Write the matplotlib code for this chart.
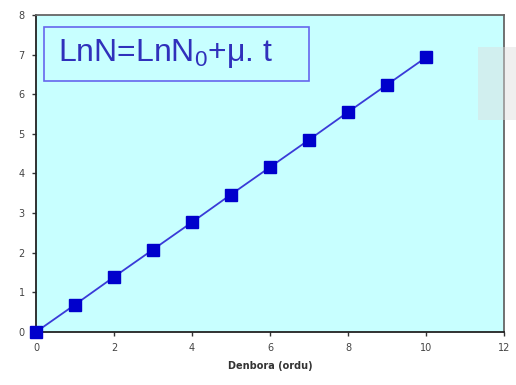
import matplotlib
matplotlib.use("Agg")
import matplotlib.pyplot as plt
from matplotlib.patches import Rectangle

plt.rcParams["mathtext.fontset"] = "custom"
plt.rcParams["mathtext.rm"] = "Liberation Sans"
plt.rcParams["mathtext.it"] = "Liberation Sans:italic"

# Exponential growth: ln N against time
hours = [0, 1, 2, 3, 4, 5, 6, 7, 8, 9, 10]
ln_n = [0.0, 0.69, 1.39, 2.08, 2.77, 3.47, 4.16, 4.85, 5.55, 6.24, 6.93]
x_ticks = [0, 2, 4, 6, 8, 10, 12]
y_ticks = [0, 1, 2, 3, 4, 5, 6, 7, 8]

W, H = 516, 385
fig = plt.figure(figsize=(W / 100, H / 100), dpi=100)
ax = fig.add_axes([36 / W, 1 - 332 / H, (504 - 36) / W, (332 - 15) / H])
ax.set_facecolor("#c8ffff")

ax.plot(hours, ln_n, color="#3a3ad8", lw=1.3, marker="s", ms=8,
        mfc="#0000cc", mec="#0000cc", clip_on=False, zorder=3)

ax.set_xlim(0, 12)
ax.set_ylim(0, 8)
ax.set_xticks(x_ticks)
ax.set_yticks(y_ticks)
ax.tick_params(direction="out", length=3, width=1, colors="#333333",
               labelsize=7, labelcolor="#444444", pad=5)
for side in ("left", "bottom"):
    ax.spines[side].set_color("#222222")
    ax.spines[side].set_linewidth(1.3)
for side in ("top", "right"):
    ax.spines[side].set_color("#666666")
    ax.spines[side].set_linewidth(1.3)

ax.set_xlabel("Denbora (ordu)", fontsize=7, fontweight="bold", color="#333333", labelpad=6)

# Equation box
fig.patches.append(Rectangle((44 / W, 1 - 81 / H), 265 / W, 54 / H,
                             transform=fig.transFigure, fc="#c8ffff", ec="#6666ee",
                             lw=1.2, zorder=4))
fig.text(58 / W, 1 - 53 / H, r"LnN=LnN$_\mathregular{0}$+$\mathregular{\mu}$. t",
         fontsize=23, family="Liberation Sans", color="#3030bb",
         va="center", ha="left", zorder=5)

# Faint grey panel at the right edge
fig.patches.append(Rectangle((478 / W, 1 - 120 / H), 40 / W, 73 / H,
                             transform=fig.transFigure, fc="#dddddd", ec="none",
                             alpha=0.45, zorder=5))

fig.savefig("out.png", dpi=100)
